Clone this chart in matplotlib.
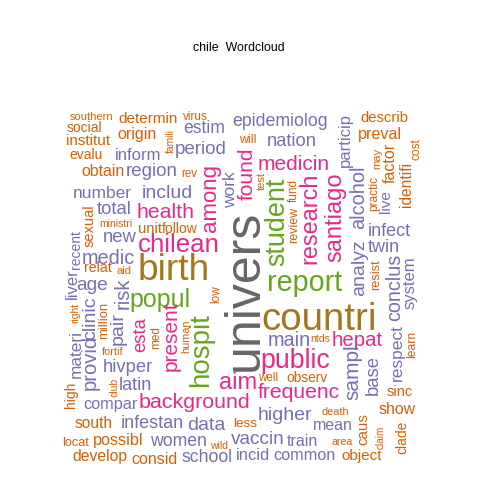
import matplotlib
matplotlib.use("Agg")
import matplotlib.pyplot as plt

# word cloud terms, their relative weight (drawn as font size in pt) and colour group
words = [
    "univers", "countri", "birth", "report", "hospit", "student", "popul",
    "public", "chilean", "santiago", "research", "aim", "among", "background",
    "health", "frequenc", "medicin", "found", "present", "hepat", "esta",
    "sampl", "provid", "medic", "main", "alcohol", "risk", "conclus", "includ",
    "analyz", "higher", "data", "clinic", "pair", "age", "vaccin", "period",
    "region", "total", "new", "base", "nation", "hivper", "infect", "twin",
    "latin", "infestan", "epidemiolog", "estim", "women", "school", "number",
    "work", "respect", "materi", "inform", "particip", "system", "liver",
    "incid", "compar", "common", "mean", "train", "live", "recent",
    "preval", "origin", "factor", "possibl", "consid", "show", "obtain",
    "develop", "identifi", "south", "determin", "institut", "object", "caus",
    "describ", "unit", "relat", "sexual", "sinc", "social", "evalu", "follow",
    "clade", "high", "observ", "less", "million", "resist", "locat", "review",
    "will", "learn", "practic", "cost", "low", "virus", "med", "fund", "well",
    "rev", "southern", "test", "may", "aid", "death", "fortif", "human",
    "area", "ntds", "ministri", "club", "wild", "right", "famili", "claim",
]
weights = [
    36, 27.6, 26.7, 20.7, 20, 19.4, 18,
    19.3, 18.6, 17, 16.8, 17, 16, 15.4,
    15.3, 15.2, 15, 15, 15, 14.7, 13.3,
    15, 14.5, 14.3, 14.3, 14.3, 14.5, 14.2, 14,
    14, 14, 14, 14, 14, 13.8, 13.7, 13.5,
    13.5, 13.3, 13.3, 13.3, 13.2, 13.2, 13, 13,
    13, 13, 12.8, 12.7, 12.7, 12.7, 12.5,
    12.5, 12.5, 12.4, 12, 12, 12, 12,
    11.9, 11.7, 11.7, 11.5, 11.5, 11, 10,
    11.6, 11.5, 11.5, 11.6, 11.5, 11.4, 11.4,
    11.3, 11.2, 11.2, 11, 11, 11, 10.9,
    10.7, 10.7, 10.2, 10.5, 10.5, 10, 10, 10,
    10, 10, 9.9, 9.7, 9.4, 9.2, 9.2, 9,
    8.8, 8.7, 8.6, 8.6, 8.6, 8.5, 8.5, 8.5, 8.4,
    8.3, 8, 8, 8, 8, 7.8, 7.8, 7.8,
    7.6, 7.6, 7.5, 7.5, 7.5, 7.4, 7.4, 7.2,
]
groups = (["gray"] + ["brown"] * 2 + ["green"] * 4 + ["pink"] * 14
          + ["purple"] * 45 + ["orange"] * 56)

# layout found by the word cloud (pixel position of each word on the 480px canvas)
vertical = [
    "univers", "hospit", "student", "santiago", "research", "among", "found",
    "present", "esta", "sampl", "provid", "alcohol", "risk", "conclus",
    "analyz", "clinic", "pair", "base", "work", "respect", "materi",
    "particip", "system", "liver", "live", "recent", "factor", "identifi",
    "caus", "sexual", "clade", "high", "million", "resist", "review", "learn",
    "practic", "cost", "low", "med", "fund", "test", "may", "human", "club",
    "right", "famili", "claim",
]
layout_x = [
    245, 319, 174, 305, 201, 277, 160,
    295, 179, 335, 310, 238, 211, 194,
    166, 299, 294, 247, 171, 357, 141,
    353, 90, 108, 289, 359, 123, 395, 167.5,
    360, 285, 206, 91, 118, 92, 258, 201,
    152, 114, 120, 373, 292, 128, 389, 384,
    135, 152, 280, 204, 178, 207, 102.5,
    231, 397, 76, 138.5, 345, 410, 72,
    253, 110, 304, 333, 302, 386, 76,
    380, 137, 390, 118, 155, 397, 103,
    100, 406, 94, 148, 88, 362, 363,
    384, 150, 98, 90, 400, 84, 86.5, 179.5,
    402, 71, 307, 245, 104, 376, 76, 294,
    248, 412, 374, 416, 216, 195.5, 156, 294, 268,
    189, 91.5, 262, 377, 124, 335, 113, 186,
    342, 320, 116, 114, 219, 75, 171, 381,
]
layout_y = [
    290, 320, 270, 283, 350, 222, 300,
    361, 245, 217, 218, 383, 198, 403,
    213, 392, 164, 174, 336, 341, 335,
    372, 362, 259, 341, 197, 293, 287, 193,
    268, 416, 425, 318, 329, 285, 440, 149,
    172, 209, 237, 375, 142, 367, 232, 248,
    385, 424, 122, 128.5, 442, 457, 194,
    190, 353, 354, 155, 140, 283, 284,
    455, 405, 455, 426, 441, 202, 250,
    134, 134, 163, 440, 459, 410, 172,
    457, 184, 424, 119, 141, 456, 429,
    118, 229, 268, 226, 392, 128, 155, 229,
    437, 395, 378, 424, 320, 275, 443, 225,
    140, 344, 193, 149, 294, 117, 338, 191, 378,
    174, 117, 181, 158, 271, 412, 352, 336,
    442, 339, 224, 387, 446, 313, 141, 437,
]

palette = {
    "gray": "#666666", "brown": "#A6761D", "green": "#66A61E",
    "pink": "#E7298A", "purple": "#7570B3", "orange": "#D95F02",
}

fig = plt.figure(figsize=(4.8, 4.8), dpi=100)
ax = fig.add_axes([0, 0, 1, 1])
ax.set_xlim(0, 480)
ax.set_ylim(480, 0)
ax.axis("off")

for word, size, grp, x, y in zip(words, weights, groups, layout_x, layout_y):
    ax.text(x, y, word, fontsize=size, color=palette[grp],
            rotation=90 if word in vertical else 0,
            ha="center", va="center", family="Liberation Sans")

ax.text(238.5, 48, "chile  Wordcloud", fontsize=8.9, color="black",
        ha="center", va="center", family="Liberation Sans")

fig.savefig("out.png", dpi=100)
